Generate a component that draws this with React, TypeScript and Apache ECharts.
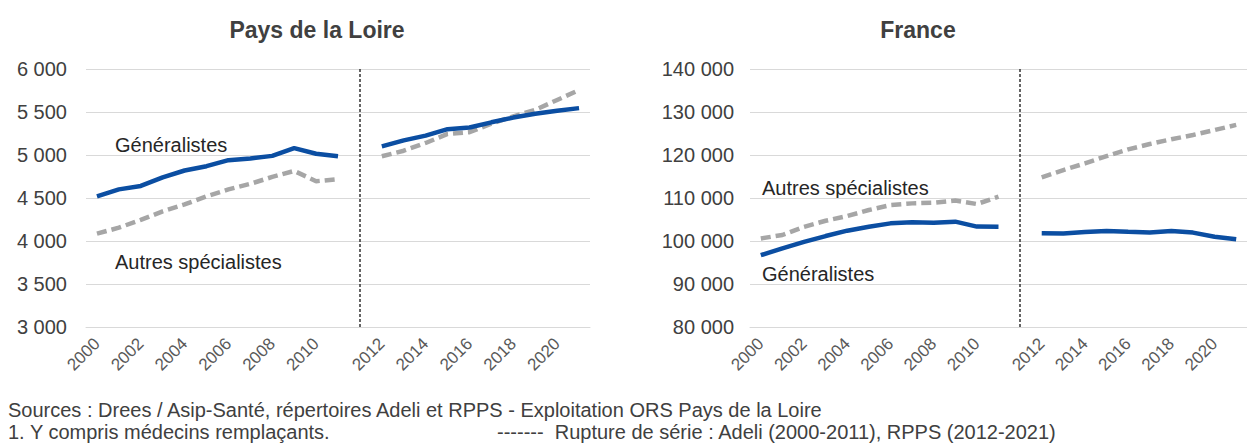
import React, { useEffect, useRef } from 'react';
import * as echarts from 'echarts';

// ---- Data ----
const yearsAdeli = ['2000', '2001', '2002', '2003', '2004', '2005', '2006', '2007', '2008', '2009', '2010', '2011'];
const yearsRpps = ['2012', '2013', '2014', '2015', '2016', '2017', '2018', '2019', '2020', '2021'];
const shownYears = ['2000', '2002', '2004', '2006', '2008', '2010', '2012', '2014', '2016', '2018', '2020'];

const pdlGeneralistesAdeli = [4520, 4600, 4640, 4740, 4820, 4870, 4940, 4960, 4990, 5080, 5015, 4985];
const pdlGeneralistesRpps = [5100, 5170, 5225, 5300, 5320, 5380, 5435, 5480, 5515, 5545];
const pdlAutresAdeli = [4085, 4155, 4245, 4345, 4425, 4520, 4600, 4665, 4745, 4815, 4695, 4720];
const pdlAutresRpps = [4985, 5050, 5140, 5245, 5265, 5365, 5450, 5525, 5640, 5755];

const fraGeneralistesAdeli = [96700, 98300, 99800, 101150, 102400, 103300, 104100, 104350, 104250, 104500, 103350, 103300];
const fraGeneralistesRpps = [101800, 101750, 102100, 102350, 102150, 102000, 102300, 101950, 101000, 100400];
const fraAutresAdeli = [100600, 101400, 103300, 104700, 105800, 107200, 108350, 108750, 108900, 109400, 108600, 110300];
const fraAutresRpps = [114800, 116500, 118050, 119750, 121300, 122550, 123650, 124650, 125800, 127000];

const titles = ['Pays de la Loire', 'France'];
const seriesNames = ['Généralistes', 'Autres spécialistes'];
const sourceText = 'Sources : Drees / Asip-Santé, répertoires Adeli et RPPS - Exploitation ORS Pays de la Loire';
const noteText = '1. Y compris médecins remplaçants.';
const ruptureText = '-------  Rupture de série : Adeli (2000-2011), RPPS (2012-2021)';

const categories = [...yearsAdeli, '', ...yearsRpps];
const join = (a: number[], b: number[]) => [...a, null, ...b];

const FONT = '"Liberation Sans", Arial, sans-serif';
const BLUE = '#0B4EA2';
const GREY = '#A6A6A6';
const fmt = (v: number) => String(v).replace(/\B(?=(\d{3})+(?!\d))/g, ' ');

export default function App() {
  const ref = useRef<HTMLDivElement>(null);
  useEffect(() => {
    if (!ref.current) return;
    const chart = echarts.init(ref.current, null, { renderer: 'svg' });
    const breakIndex = yearsAdeli.length;

    const xAxis = (gridIndex: number) => ({
      type: 'category',
      gridIndex,
      data: categories,
      boundaryGap: true,
      axisLine: { show: true, lineStyle: { color: '#d9d9d9', width: 1 } },
      axisTick: { show: false },
      axisLabel: {
        interval: (_i: number, v: string) => shownYears.includes(v),
        rotate: 45,
        margin: 14,
        color: '#595959',
        fontSize: 17,
        fontFamily: FONT,
      },
      splitLine: { show: false },
    });
    const yAxis = (gridIndex: number, min: number, max: number, interval: number, margin: number) => ({
      type: 'value',
      gridIndex,
      min,
      max,
      interval,
      axisLine: { show: false },
      axisTick: { show: false },
      axisLabel: { formatter: (v: number) => fmt(v), color: '#404040', fontSize: 20, fontFamily: FONT, margin },
      splitLine: { show: true, lineStyle: { color: '#d9d9d9', width: 1 } },
    });
    const breakLine = {
      silent: true,
      symbol: ['none', 'none'],
      label: { show: false },
      lineStyle: { color: '#333333', width: 1.5, type: [3, 2] },
      data: [{ xAxis: breakIndex }],
    };
    const lineSeries = (name: string, idx: number, data: (number | null)[], dashed: boolean, withBreak: boolean) => ({
      type: 'line',
      name,
      xAxisIndex: idx,
      yAxisIndex: idx,
      data,
      symbol: 'none',
      connectNulls: false,
      lineStyle: dashed
        ? { color: GREY, width: 4.5, type: [10, 5] }
        : { color: BLUE, width: 4.5 },
      itemStyle: { color: dashed ? GREY : BLUE },
      ...(withBreak ? { markLine: breakLine } : {}),
      z: dashed ? 2 : 3,
    });

    const txt = (text: string, x: number, y: number, size: number, extra: any = {}) => ({
      type: 'text',
      x,
      y,
      silent: true,
      style: {
        text,
        fontFamily: FONT,
        fontSize: size,
        fill: '#262626',
        textVerticalAlign: 'middle',
        verticalAlign: 'middle',
        ...extra,
      },
    });

    chart.setOption({
      animation: false,
      backgroundColor: '#ffffff',
      grid: [
        { left: 86, top: 69, width: 504, height: 258, containLabel: false },
        { left: 750, top: 69, width: 506, height: 258, containLabel: false },
      ],
      xAxis: [xAxis(0), xAxis(1)],
      yAxis: [yAxis(0, 3000, 6000, 500, 19), yAxis(1, 80000, 140000, 10000, 16)],
      series: [
        lineSeries(seriesNames[1], 0, join(pdlAutresAdeli, pdlAutresRpps), true, true),
        lineSeries(seriesNames[0], 0, join(pdlGeneralistesAdeli, pdlGeneralistesRpps), false, false),
        lineSeries(seriesNames[1], 1, join(fraAutresAdeli, fraAutresRpps), true, true),
        lineSeries(seriesNames[0], 1, join(fraGeneralistesAdeli, fraGeneralistesRpps), false, false),
      ],
      graphic: [
        txt(titles[0], 317, 30, 23, { fontWeight: 'bold', fill: '#404040', textAlign: 'center', align: 'center' }),
        txt(titles[1], 918, 30, 23, { fontWeight: 'bold', fill: '#404040', textAlign: 'center', align: 'center' }),
        txt(seriesNames[0], 115, 145, 20),
        txt(seriesNames[1], 115, 262, 20),
        txt(seriesNames[1], 762, 188, 20),
        txt(seriesNames[0], 762, 274, 20),
        txt(sourceText, 8, 410, 20, { fill: '#404040' }),
        txt(noteText, 8, 432, 20, { fill: '#404040' }),
        txt(ruptureText, 497, 432, 20, { fill: '#404040' }),
      ],
    });
    return () => chart.dispose();
  }, []);
  return <div ref={ref} style={{ position: 'absolute', left: 0, top: 0, width: 1247, height: 445 }} />;
}
